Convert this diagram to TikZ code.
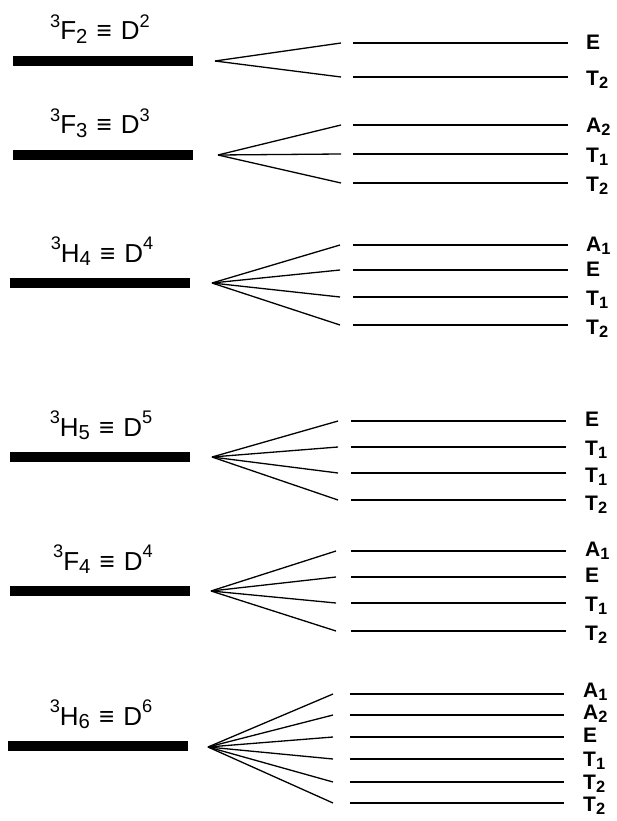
\documentclass[tikz,border=0pt]{standalone}
\usepackage{fontspec}
\setmainfont{Liberation Sans}

% 上下标:按当前字号缩小
\newcommand{\upidx}[1]{\raisebox{0.48em}{\scalebox{0.7}{#1}}}
\newcommand{\lowidx}[1]{\raisebox{-0.13em}{\scalebox{0.78}{#1}}}
% 能级名称中的 ≡
\newcommand{\eqv}{\hspace{0.35em}≡\hspace{0.35em}}

\begin{document}
\begin{tikzpicture}[x=1pt, y=-1pt]
        % ================= 样式定义 =================
        \tikzset{
            % 自由离子能级:粗黑条
            lvlbar/.style={fill=black, inner sep=0pt, minimum width=180pt, minimum height=10pt},
            % 能级名称
            term/.style={anchor=base, inner sep=0pt, font=\fontsize{26}{26}\selectfont},
            % 分裂连线
            split/.style={line width=1.3pt},
            % 晶体场能级
            level/.style={line width=1.8pt},
            % 不可约表示标签
            irrep/.style={anchor=base west, inner sep=0pt, font=\fontsize{21}{21}\selectfont\bfseries}
        }
        \useasboundingbox (0,0) rectangle (617,821);

        % ================= 1. 3F2 =================
        \node[lvlbar] (b1) at (103,61) {};
        \node[term] (t1) at (100,40) {\upidx{3}F\lowidx{2}\eqv D\upidx{2}};
        \coordinate (o1) at (215,61);
        \foreach \y/\ty/\lab/\n in {43/42/E/1, 77/78/T\lowidx{2}/2} {
            \coordinate (e1\n) at (341,\y);
            \coordinate (l1\n) at (353,\y);
            \coordinate (r1\n) at (568,\y);
            \draw[split] (o1) -- (e1\n);
            \draw[level] (l1\n) -- (r1\n);
            \node[irrep] (s1\n) at (586,\ty+7.5) {\lab};
        }

        % ================= 2. 3F3 =================
        \node[lvlbar] (b2) at (103,155) {};
        \node[term] (t2) at (100,134) {\upidx{3}F\lowidx{3}\eqv D\upidx{3}};
        \coordinate (o2) at (218,155);
        \foreach \y/\ty/\lab/\n in {125/125/A\lowidx{2}/1, 154/155/T\lowidx{1}/2, 183/184/T\lowidx{2}/3} {
            \coordinate (e2\n) at (341,\y);
            \coordinate (l2\n) at (353,\y);
            \coordinate (r2\n) at (568,\y);
            \draw[split] (o2) -- (e2\n);
            \draw[level] (l2\n) -- (r2\n);
            \node[irrep] (s2\n) at (586,\ty+7.5) {\lab};
        }

        % ================= 3. 3H4 =================
        \node[lvlbar] (b3) at (99.5,283) {};
        \node[term] (t3) at (102,262) {\upidx{3}H\lowidx{4}\eqv D\upidx{4}};
        \coordinate (o3) at (212,283);
        \foreach \y/\ty/\lab/\n in {245/244/A\lowidx{1}/1, 270/269/E/2, 297/298/T\lowidx{1}/3, 325/327/T\lowidx{2}/4} {
            \coordinate (e3\n) at (340,\y);
            \coordinate (l3\n) at (353,\y);
            \coordinate (r3\n) at (568,\y);
            \draw[split] (o3) -- (e3\n);
            \draw[level] (l3\n) -- (r3\n);
            \node[irrep] (s3\n) at (586,\ty+7.5) {\lab};
        }

        % ================= 4. 3H5 =================
        \node[lvlbar] (b4) at (99.5,457) {};
        \node[term] (t4) at (101,436) {\upidx{3}H\lowidx{5}\eqv D\upidx{5}};
        \coordinate (o4) at (212,457);
        \foreach \y/\ty/\lab/\n in {421/419/E/1, 447/448/T\lowidx{1}/2, 473/475/T\lowidx{1}/3, 500/503/T\lowidx{2}/4} {
            \coordinate (e4\n) at (338,\y);
            \coordinate (l4\n) at (351,\y);
            \coordinate (r4\n) at (566,\y);
            \draw[split] (o4) -- (e4\n);
            \draw[level] (l4\n) -- (r4\n);
            \node[irrep] (s4\n) at (585,\ty+7.5) {\lab};
        }

        % ================= 5. 3F4 =================
        \node[lvlbar] (b5) at (99.5,591) {};
        \node[term] (t5) at (103,570) {\upidx{3}F\lowidx{4}\eqv D\upidx{4}};
        \coordinate (o5) at (211,591);
        \foreach \y/\ty/\lab/\n in {551/549/A\lowidx{1}/1, 577/575/E/2, 603/604/T\lowidx{1}/3, 631/633/T\lowidx{2}/4} {
            \coordinate (e5\n) at (336,\y);
            \coordinate (l5\n) at (351,\y);
            \coordinate (r5\n) at (566,\y);
            \draw[split] (o5) -- (e5\n);
            \draw[level] (l5\n) -- (r5\n);
            \node[irrep] (s5\n) at (585,\ty+7.5) {\lab};
        }

        % ================= 6. 3H6 =================
        \node[lvlbar] (b6) at (97.5,746) {};
        \node[term] (t6) at (101,725) {\upidx{3}H\lowidx{6}\eqv D\upidx{6}};
        \coordinate (o6) at (208,747);
        \foreach \y/\ty/\lab/\n in {694/690/A\lowidx{1}/1, 715/712/A\lowidx{2}/2, 737/735/E/3,
                                    759/759/T\lowidx{1}/4, 782/782/T\lowidx{2}/5, 803/804/T\lowidx{2}/6} {
            \coordinate (e6\n) at (333,\y);
            \coordinate (l6\n) at (350,\y);
            \coordinate (r6\n) at (564,\y);
            \draw[split] (o6) -- (e6\n);
            \draw[level] (l6\n) -- (r6\n);
            \node[irrep] (s6\n) at (583,\ty+7.5) {\lab};
        }

\end{tikzpicture}
\end{document}
